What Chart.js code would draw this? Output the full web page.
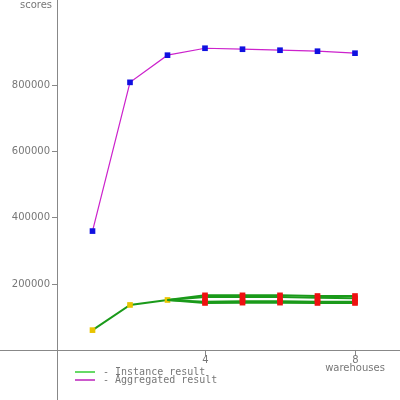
<!DOCTYPE html>
<html lang="en">
<head>
  <meta charset="UTF-8">
  <title>Scores by warehouses</title>
  <script src="https://cdn.jsdelivr.net/npm/chart.js"></script>
<style>
  html, body { margin: 0; padding: 0; background: #fff; }
  #plot { display: block; }
</style>
</head>
<body>
  <canvas id="plot" width="400" height="400"></canvas>
  <script>
    // warehouses on the x axis
    const warehouses = [1, 2, 3, 4, 5, 6, 7, 8];
    const aggregated = [359000, 808000, 890000, 911000, 908000, 905000, 902000, 896000];
    // instance runs (null where that instance did not run)
    const instanceA = [60000, 136000, 151000, 165000, 165000, 165000, 163000, 163000];
    const instanceB = [null, null, 151000, 160000, 160000, 160000, 158000, 156000];
    const instanceC = [null, null, 151000, 146000, 147000, 147000, 146000, 146000];
    const instanceD = [null, null, 151000, 142000, 143000, 143000, 142000, 142000];
    const xTicks = [4, 8];
    const yTicks = [200000, 400000, 600000, 800000];

    const toPoints = vals => warehouses.map((w, i) => ({ x: w, y: vals[i] }))
      .filter(p => p.y !== null);

    const markerColor = ctx => (ctx.raw && ctx.raw.x <= 3) ? '#e8c400' : '#ee1111';

    function instanceSet(vals, showEarly) {
      return {
        label: 'Instance result',
        data: toPoints(vals),
        borderColor: '#1a9a1a',
        borderWidth: 2,
        pointStyle: 'rect',
        pointRadius: ctx => (!showEarly && ctx.raw && ctx.raw.x <= 3) ? 0 : 4,
        pointBackgroundColor: markerColor,
        pointBorderColor: markerColor,
        pointBorderWidth: 0,
        tension: 0
      };
    }

    // axes, ticks and legend are drawn by hand, like the old applet did
    const axesPlugin = {
      id: 'axes',
      afterDraw(chart) {
        const c = chart.ctx;
        const xs = chart.scales.x, ys = chart.scales.y;
        const x0 = xs.getPixelForValue(0) + 2;
        const y0 = ys.getPixelForValue(0);
        c.save();
        c.strokeStyle = '#888';
        c.lineWidth = 1;
        c.beginPath();
        c.moveTo(Math.round(x0) + 0.5, 0);
        c.lineTo(Math.round(x0) + 0.5, 400);
        c.moveTo(0, Math.round(y0) + 0.5);
        c.lineTo(400, Math.round(y0) + 0.5);
        c.stroke();

        c.fillStyle = '#777';
        c.font = '10px "DejaVu Sans"';
        c.textAlign = 'right';
        c.textBaseline = 'middle';
        yTicks.forEach(v => {
          const py = Math.round(ys.getPixelForValue(v)) + 0.5;
          c.beginPath();
          c.moveTo(x0 - 5, py);
          c.lineTo(x0, py);
          c.stroke();
          c.fillText(String(v), x0 - 7, py);
        });
        c.fillText('scores', x0 - 5, 5);

        c.textAlign = 'center';
        xTicks.forEach(v => {
          const px = Math.round(xs.getPixelForValue(v)) + 0.5;
          c.beginPath();
          c.moveTo(px, y0);
          c.lineTo(px, y0 + 6);
          c.stroke();
          c.fillText(String(v), px, y0 + 10);
        });
        c.fillText('warehouses', xs.getPixelForValue(8), y0 + 18);

        // legend
        c.font = '10px "DejaVu Sans Mono"';
        c.textAlign = 'left';
        c.lineWidth = 1.5;
        [['#33cc33', '- Instance result'], ['#bb22bb', '- Aggregated result']].forEach((it, i) => {
          const ly = y0 + 22 + i * 8;
          c.strokeStyle = it[0];
          c.beginPath();
          c.moveTo(75, ly);
          c.lineTo(95, ly);
          c.stroke();
          c.fillStyle = '#777';
          c.fillText(it[1], 103, ly);
        });
        c.restore();
      }
    };

    new Chart(document.getElementById('plot').getContext('2d'), {
      type: 'line',
      data: {
        datasets: [
          {
            label: 'Aggregated result',
            data: toPoints(aggregated),
            borderColor: '#cc22cc',
            borderWidth: 1.2,
            pointStyle: 'rect',
            pointRadius: 4,
            pointBackgroundColor: '#1010e0',
            pointBorderColor: '#1010e0',
            pointBorderWidth: 0,
            tension: 0
          },
          instanceSet(instanceD, false),
          instanceSet(instanceC, false),
          instanceSet(instanceB, false),
          instanceSet(instanceA, true)
        ]
      },
      options: {
        responsive: false,
        animation: false,
        layout: { padding: 0, autoPadding: false },
        plugins: { legend: { display: false }, tooltip: { enabled: false } },
        scales: {
          x: { type: 'linear', display: false, min: -1.4667, max: 9.2 },
          y: { type: 'linear', display: false, min: -150943, max: 1056600 }
        }
      },
      plugins: [axesPlugin]
    });
  </script>
</body>
</html>
